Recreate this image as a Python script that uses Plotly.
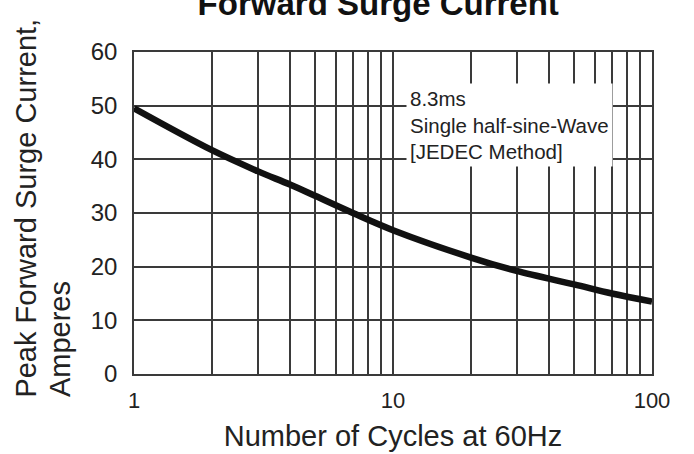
import plotly.graph_objects as go

# Data
cycles = [1, 2, 3, 4, 5, 7, 10, 20, 30, 50, 70, 100]
surge_current = [49.5, 41.7, 37.8, 35.3, 33.2, 30.0, 26.8, 21.7, 19.2, 16.7, 15.0, 13.5]

x_tick_vals = [1, 10, 100]
x_tick_text = ["1", "10", "100"]
x_minor_vals = [2, 3, 4, 5, 6, 7, 8, 9, 20, 30, 40, 50, 60, 70, 80, 90]
y_tick_vals = [0, 10, 20, 30, 40, 50, 60]

title_text = "Forward Surge Current"
x_title = "Number of Cycles at 60Hz"
y_title_line1 = "Peak Forward Surge Current,"
y_title_line2 = "Amperes"
note_text = "8.3ms<br>Single half-sine-Wave<br>[JEDEC Method]"

FONT = "Liberation Sans, Arial, sans-serif"
GRID = "#3a3a3a"

fig = go.Figure()
fig.add_trace(go.Scatter(
    x=cycles, y=surge_current, mode="lines",
    line=dict(color="#111111", width=6.5, shape="spline", smoothing=1.0),
    showlegend=False, hoverinfo="skip",
))

fig.update_layout(
    width=694, height=454,
    margin=dict(l=134, r=42, t=52, b=80),
    paper_bgcolor="white", plot_bgcolor="white",
    font=dict(family=FONT, color="#222222"),
    title=dict(
        text="<b>" + title_text + "</b>",
        font=dict(family=FONT, size=33, color="#111111"),
        xref="container", x=0.545, xanchor="center",
        yref="container", y=0.992, yanchor="middle",
    ),
)

fig.update_xaxes(
    type="log", range=[0, 2], automargin=False,
    tickmode="array", tickvals=x_tick_vals, ticktext=x_tick_text,
    tickfont=dict(size=22, color="#222222"),
    ticks="", ticklabelstandoff=6,
    showgrid=True, gridcolor=GRID, gridwidth=1.5,
    minor=dict(tickmode="array", tickvals=x_minor_vals, showgrid=True,
               gridcolor=GRID, gridwidth=1.5, ticks=""),
    showline=True, linecolor=GRID, linewidth=1.5, mirror=True,
    zeroline=False,
    title=dict(text=x_title, font=dict(size=29, color="#222222"), standoff=14),
)

fig.update_yaxes(
    range=[0, 60], automargin=False,
    tickmode="array", tickvals=y_tick_vals,
    tickfont=dict(size=24, color="#222222"),
    ticks="", ticklabelstandoff=10,
    showgrid=True, gridcolor=GRID, gridwidth=1.5,
    showline=True, linecolor=GRID, linewidth=1.5, mirror=True,
    zeroline=False,
)

# Y axis title as two bottom-aligned rotated lines
fig.add_annotation(text=y_title_line1, xref="paper", yref="paper",
                   x=-0.2085, y=-0.078, xanchor="center", yanchor="bottom",
                   textangle=-90, showarrow=False,
                   font=dict(size=29, color="#222222"))
fig.add_annotation(text=y_title_line2, xref="paper", yref="paper",
                   x=-0.143, y=-0.078, xanchor="center", yanchor="bottom",
                   textangle=-90, showarrow=False,
                   font=dict(size=29, color="#222222"))

# Note box (white background hides the grid behind it)
fig.add_annotation(text=note_text, xref="x", yref="y",
                   x=1.05, y=54.2, xanchor="left", yanchor="top",
                   align="left", showarrow=False,
                   bgcolor="white", borderpad=3,
                   font=dict(size=20.5, color="#222222"))

fig.write_html("out.html", config={"displayModeBar": False},
               post_script="document.body.style.margin='0px';")
